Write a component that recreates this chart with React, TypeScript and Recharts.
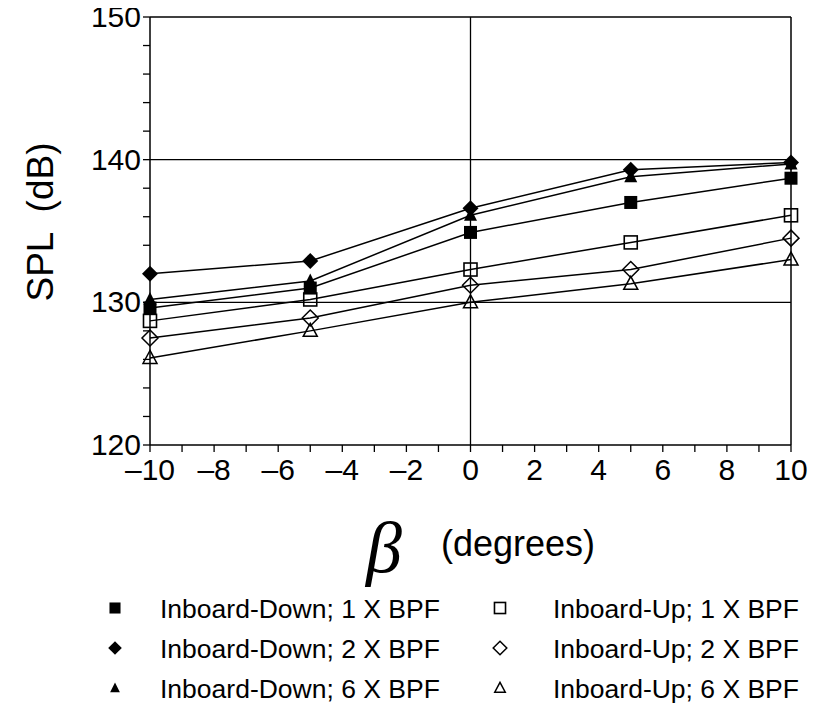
import React from 'react';
import { ComposedChart, Line, XAxis, YAxis, ReferenceLine } from 'recharts';

const betaValues = [-10, -5, 0, 5, 10];
const inboardDown1 = [129.6, 131.0, 134.9, 137.0, 138.7];
const inboardDown2 = [132.0, 132.9, 136.6, 139.3, 139.8];
const inboardDown6 = [130.2, 131.5, 136.1, 138.8, 139.7];
const inboardUp1 = [128.7, 130.2, 132.3, 134.2, 136.1];
const inboardUp2 = [127.5, 128.9, 131.2, 132.3, 134.5];
const inboardUp6 = [126.1, 128.0, 130.0, 131.3, 133.0];

const xTicks = [-10, -9, -8, -7, -6, -5, -4, -3, -2, -1, 0, 1, 2, 3, 4, 5, 6, 7, 8, 9, 10];
const xLabelTicks = [-10, -8, -6, -4, -2, 0, 2, 4, 6, 8, 10];
const yTicks = [120, 122, 124, 126, 128, 130, 132, 134, 136, 138, 140, 142, 144, 146, 148, 150];
const yLabelTicks = [120, 130, 140, 150];

const seriesNames = [
  'Inboard-Down; 1 X BPF',
  'Inboard-Down; 2 X BPF',
  'Inboard-Down; 6 X BPF',
  'Inboard-Up; 1 X BPF',
  'Inboard-Up; 2 X BPF',
  'Inboard-Up; 6 X BPF',
];
const seriesKeys = ['d1', 'd2', 'd6', 'u1', 'u2', 'u6'];
const seriesShapes = ['fsquare', 'fdiamond', 'ftriangle', 'osquare', 'odiamond', 'otriangle'];

const data = betaValues.map((b, i) => ({
  beta: b,
  d1: inboardDown1[i],
  d2: inboardDown2[i],
  d6: inboardDown6[i],
  u1: inboardUp1[i],
  u2: inboardUp2[i],
  u6: inboardUp6[i],
}));

const FONT = '"Liberation Sans", Arial, Helvetica, sans-serif';

function Marker({ shape, cx, cy, scale = 1 }: { shape: string; cx: number; cy: number; scale?: number }) {
  const s = scale;
  switch (shape) {
    case 'fsquare':
      return <rect x={cx - 6.5 * s} y={cy - 6.5 * s} width={13 * s} height={13 * s} fill="#000" />;
    case 'fdiamond':
      return <polygon points={`${cx},${cy - 8 * s} ${cx + 8 * s},${cy} ${cx},${cy + 8 * s} ${cx - 8 * s},${cy}`} fill="#000" />;
    case 'ftriangle':
      return <polygon points={`${cx},${cy - 7.5 * s} ${cx + 6.5 * s},${cy + 5.5 * s} ${cx - 6.5 * s},${cy + 5.5 * s}`} fill="#000" />;
    case 'osquare':
      return <rect x={cx - 6.5 * s} y={cy - 6.5 * s} width={13 * s} height={13 * s} fill="none" stroke="#000" strokeWidth={1.6} />;
    case 'odiamond':
      return <polygon points={`${cx},${cy - 8 * s} ${cx + 8 * s},${cy} ${cx},${cy + 8 * s} ${cx - 8 * s},${cy}`} fill="none" stroke="#000" strokeWidth={1.5} />;
    default:
      return <polygon points={`${cx},${cy - 7.5 * s} ${cx + 7 * s},${cy + 5.5 * s} ${cx - 7 * s},${cy + 5.5 * s}`} fill="none" stroke="#000" strokeWidth={1.5} />;
  }
}

const makeDot = (shape: string) => (props: any) => {
  const { cx, cy, index } = props;
  if (cx == null || cy == null) return <g key={`n-${index}`} />;
  return (
    <g key={`${shape}-${index}`}>
      <Marker shape={shape} cx={cx} cy={cy} />
    </g>
  );
};

const XTick = (props: any) => {
  const { x, y, payload } = props;
  const v = payload.value;
  if (!xLabelTicks.includes(v)) return <g />;
  const label = v < 0 ? `\u2013${Math.abs(v)}` : `${v}`;
  return (
    <text x={x} y={y + 26} textAnchor="middle" fontFamily={FONT} fontSize={30} fill="#000">
      {label}
    </text>
  );
};

const YTick = (props: any) => {
  const { x, y, payload } = props;
  const v = payload.value;
  if (!yLabelTicks.includes(v)) return <g />;
  return (
    <text x={x} y={y + 10} textAnchor="end" fontFamily={FONT} fontSize={30} fill="#000">
      {v}
    </text>
  );
};

const LegendBlock = () => {
  const rows = [608, 648, 688];
  return (
    <g>
      {seriesNames.map((name, i) => {
        const col = i < 3 ? 0 : 1;
        const row = i % 3;
        const mx = col === 0 ? 115 : 500;
        const tx = col === 0 ? 160 : 553;
        const cy = rows[row];
        const sc = seriesShapes[i] === 'ftriangle' || seriesShapes[i] === 'otriangle' ? 0.75 : 0.85;
        return (
          <g key={name}>
            <Marker shape={seriesShapes[i]} cx={mx} cy={cy} scale={sc} />
            <text x={tx} y={cy + 10} fontFamily={FONT} fontSize={26.5} fill="#000">
              {name}
            </text>
          </g>
        );
      })}
    </g>
  );
};

export default function App() {
  return (
    <div style={{ width: 822, height: 714, position: 'relative', background: '#fff' }}>
      <ComposedChart
        width={822}
        height={714}
        data={data}
        margin={{ top: 17, right: 31, bottom: 149, left: 0 }}
        style={{ position: 'absolute', left: -8, top: -8 }}
      >
        <XAxis
          dataKey="beta"
          type="number"
          domain={[-10, 10]}
          ticks={xTicks}
          interval={0}
          height={120}
          tickSize={7}
          tickLine={{ stroke: '#000', strokeWidth: 1.3 }}
          axisLine={{ stroke: '#000', strokeWidth: 1.5 }}
          tick={<XTick />}
          label={{
            content: () => (
              <g>
                <text x={384} y={572} textAnchor="middle" fontFamily='"Liberation Serif", serif' fontStyle="italic" fontSize={72} fill="#000">
                  β
                </text>
                <text x={518} y={556} textAnchor="middle" fontFamily={FONT} fontSize={36} fill="#000">
                  (degrees)
                </text>
                <LegendBlock />
              </g>
            ),
          }}
        />
        <YAxis
          type="number"
          domain={[120, 150]}
          ticks={yTicks}
          interval={0}
          width={150}
          tickSize={7}
          tickLine={{ stroke: '#000', strokeWidth: 1.3 }}
          axisLine={{ stroke: '#000', strokeWidth: 1.5 }}
          tick={<YTick />}
          label={{
            content: () => (
              <text
                x={53}
                y={222}
                transform="rotate(-90 53 222)"
                textAnchor="middle"
                fontFamily={FONT}
                fontSize={37}
                fill="#000"
                style={{ whiteSpace: 'pre' }}
              >
                {'SPL  (dB)'}
              </text>
            ),
          }}
        />
        <ReferenceLine y={130} stroke="#000" strokeWidth={1.3} />
        <ReferenceLine y={140} stroke="#000" strokeWidth={1.3} />
        <ReferenceLine y={150} stroke="#000" strokeWidth={1.5} />
        <ReferenceLine x={0} stroke="#000" strokeWidth={1.3} />
        <ReferenceLine x={10} stroke="#000" strokeWidth={1.5} />
        {seriesKeys.map((k, i) => (
          <Line
            key={k}
            dataKey={k}
            name={seriesNames[i]}
            stroke="#000"
            strokeWidth={1.5}
            dot={makeDot(seriesShapes[i])}
            activeDot={false}
            isAnimationActive={false}
            type="linear"
          />
        ))}
      </ComposedChart>
    </div>
  );
}
